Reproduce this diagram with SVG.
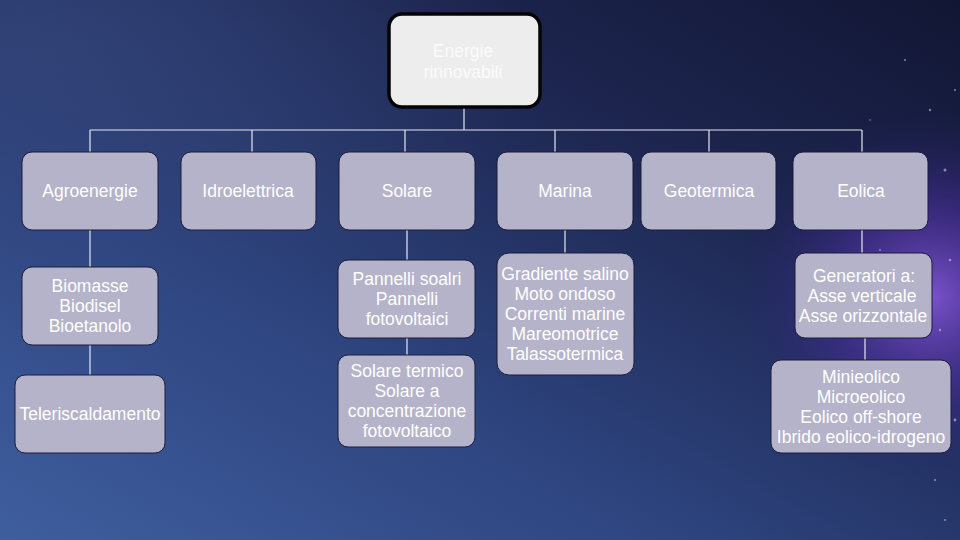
<svg xmlns="http://www.w3.org/2000/svg" width="960" height="540" viewBox="0 0 960 540">
<defs>
<linearGradient id="bg" x1="0" y1="1" x2="1" y2="0">
<stop offset="0" stop-color="#3f5e9e"/>
<stop offset="0.35" stop-color="#2e4580"/>
<stop offset="0.7" stop-color="#1d2650"/>
<stop offset="1" stop-color="#121634"/>
</linearGradient>
<radialGradient id="tl" cx="0.05" cy="0.1" r="0.5">
<stop offset="0" stop-color="#34457a" stop-opacity="0.7"/>
<stop offset="1" stop-color="#34457a" stop-opacity="0"/>
</radialGradient>
<radialGradient id="pur" cx="0.97" cy="0.55" r="0.2" gradientTransform="translate(0.97 0.55) scale(1 1.7) translate(-0.97 -0.55)">
<stop offset="0" stop-color="#8a5ae0" stop-opacity="0.85"/>
<stop offset="0.5" stop-color="#5230a8" stop-opacity="0.5"/>
<stop offset="1" stop-color="#2a2070" stop-opacity="0"/>
</radialGradient>
<style>
.box{fill:#b5b3c9;stroke:#1c1c3c;stroke-width:1}
.root{fill:#ededed;stroke:#050505;stroke-width:3.5}
.t{font-family:"Liberation Sans",Arial,sans-serif;font-size:17.5px;fill:#ffffff;text-anchor:middle}
.rt{fill:#fbfbfb}
.ln{stroke:#e6e6ee;stroke-width:1.2;fill:none}
</style>
</defs>
<rect width="960" height="540" fill="url(#bg)"/>
<rect width="960" height="540" fill="url(#tl)"/>
<rect width="960" height="540" fill="url(#pur)"/>
<g fill="#d0c0ff" opacity="0.6">
<circle cx="905" cy="60" r="1"/><circle cx="930" cy="110" r="1.2"/><circle cx="945" cy="170" r="1.5"/>
<circle cx="915" cy="210" r="1"/><circle cx="950" cy="260" r="1.3"/><circle cx="900" cy="300" r="1"/>
<circle cx="940" cy="330" r="1.2"/><circle cx="925" cy="380" r="1"/><circle cx="955" cy="420" r="1.4"/>
<circle cx="890" cy="450" r="1"/><circle cx="935" cy="480" r="1.1"/><circle cx="880" cy="250" r="0.9"/>
<circle cx="955" cy="90" r="1"/><circle cx="870" cy="120" r="0.8"/><circle cx="945" cy="520" r="1"/>
</g>
<g id="connectors" class="ln">
<path d="M464 107V130M90 130H862M90 130V152M252 130V152M405 130V152M555 130V152M709 130V152M862 130V152"/>
<path d="M90 230V267M90 345V375"/>
<path d="M407 230V260M407 338V355"/>
<path d="M565 230V253"/>
<path d="M862 230V253M865 338V360"/>
</g>
<g id="root"><rect class="root" x="389" y="14" width="151" height="93" rx="13"/>
<text class="t rt" x="463" y="57">Energie</text><text class="t rt" x="463" y="78">rinnovabili</text></g>
<g id="agroenergie"><rect class="box" x="22" y="152" width="136" height="78" rx="10"/><text class="t" x="90" y="197">Agroenergie</text></g>
<g id="idroelettrica"><rect class="box" x="181" y="152" width="135" height="78" rx="10"/><text class="t" x="248" y="197">Idroelettrica</text></g>
<g id="solare"><rect class="box" x="339" y="152" width="136" height="78" rx="10"/><text class="t" x="407" y="197">Solare</text></g>
<g id="marina"><rect class="box" x="497" y="152" width="136" height="78" rx="10"/><text class="t" x="565" y="197">Marina</text></g>
<g id="geotermica"><rect class="box" x="641" y="152" width="135" height="78" rx="10"/><text class="t" x="709" y="197">Geotermica</text></g>
<g id="eolica"><rect class="box" x="793" y="152" width="135" height="78" rx="10"/><text class="t" x="861" y="197">Eolica</text></g>
<g id="biomasse"><rect class="box" x="22" y="267" width="136" height="78" rx="10"/>
<text class="t" x="90" y="292">Biomasse</text><text class="t" x="90" y="312">Biodisel</text><text class="t" x="90" y="332">Bioetanolo</text></g>
<g id="teleriscaldamento"><rect class="box" x="15" y="375" width="150" height="78" rx="10"/><text class="t" x="90" y="420">Teleriscaldamento</text></g>
<g id="pannelli"><rect class="box" x="338" y="260" width="137" height="78" rx="10"/>
<text class="t" x="407" y="285">Pannelli soalri</text><text class="t" x="407" y="305">Pannelli</text><text class="t" x="407" y="325">fotovoltaici</text></g>
<g id="solare-termico"><rect class="box" x="338" y="355" width="137" height="92" rx="10"/>
<text class="t" x="407" y="377">Solare termico</text><text class="t" x="407" y="397">Solare a</text><text class="t" x="407" y="417">concentrazione</text><text class="t" x="407" y="437">fotovoltaico</text></g>
<g id="marina-tipi"><rect class="box" x="497" y="253" width="137" height="122" rx="12"/>
<text class="t" x="565" y="280">Gradiente salino</text><text class="t" x="565" y="300">Moto ondoso</text><text class="t" x="565" y="320">Correnti marine</text><text class="t" x="565" y="340">Mareomotrice</text><text class="t" x="565" y="360">Talassotermica</text></g>
<g id="generatori"><rect class="box" x="795" y="253" width="137" height="85" rx="10"/>
<text class="t" x="864" y="282">Generatori a:</text><text class="t" x="862" y="302">Asse verticale</text><text class="t" x="863" y="322">Asse orizzontale</text></g>
<g id="minieolico"><rect class="box" x="771" y="360" width="180" height="93" rx="10"/>
<text class="t" x="861" y="383">Minieolico</text><text class="t" x="861" y="403">Microeolico</text><text class="t" x="861" y="423">Eolico off-shore</text><text class="t" x="861" y="443">Ibrido eolico-idrogeno</text></g>
</svg>
